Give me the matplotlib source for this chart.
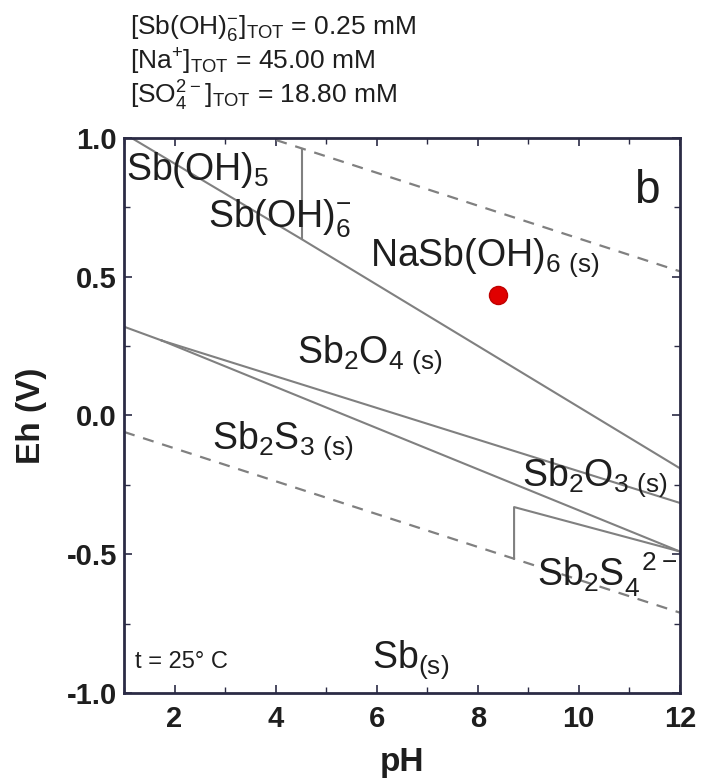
import matplotlib.pyplot as plt
from matplotlib.ticker import MultipleLocator

plt.rcParams['font.family'] = ['Liberation Sans', 'DejaVu Sans']
plt.rcParams['mathtext.default'] = 'regular'

# --- donnees (pH, Eh en V) ---
# limites de stabilite de l'eau
ph_eau = [1, 12]
eh_o2 = [1.23 - 0.0592 * p for p in ph_eau]
eh_h2 = [-0.0592 * p for p in ph_eau]

# Sb(V) / Sb(III)
ph_sb5 = [1.15, 4.52, 12.0]
eh_sb5 = [1.0, 0.635, -0.19]

# Sb(OH)5 / Sb(OH)6-
ph_vert = [4.52, 4.52]
eh_vert = [0.635, 0.962]

# Sb2O4 / Sb2S3 (segment commun)
ph_commun = [1.0, 1.75]
eh_commun = [0.32, 0.27]

# Sb2O4 / Sb2O3
ph_o4o3 = [1.75, 12.0]
eh_o4o3 = [0.27, -0.315]

# Sb2O3 / Sb2S3
ph_o3s3 = [1.75, 12.0]
eh_o3s3 = [0.27, -0.49]

# domaine Sb2S4 2-
ph_s4 = [8.72, 8.72, 12.0]
eh_s4 = [-0.516, -0.33, -0.49]

# echantillon
ph_point = [8.41]
eh_point = [0.434]

gris = '#808080'
cadre = '#2b2b45'
texte = '#1e1e1e'

fig = plt.figure(figsize=(7.03, 7.81), dpi=100)
ax = fig.add_axes([0.1764, 0.1127, 0.7906, 0.7106])

ax.plot(ph_eau, eh_o2, color=gris, lw=1.6, ls=(0, (5, 4)))
ax.plot(ph_eau, eh_h2, color=gris, lw=1.6, ls=(0, (5, 4)))
for xs, ys in [(ph_sb5, eh_sb5), (ph_vert, eh_vert), (ph_commun, eh_commun),
               (ph_o4o3, eh_o4o3), (ph_o3s3, eh_o3s3), (ph_s4, eh_s4)]:
    ax.plot(xs, ys, color=gris, lw=1.5)

ax.plot(ph_point, eh_point, 'o', color='#e00000', ms=13, mec='#c00000')

ax.set_xlim(1, 12)
ax.set_ylim(-1.0, 1.0)
ax.xaxis.set_major_locator(MultipleLocator(2))
ax.xaxis.set_minor_locator(MultipleLocator(1))
ax.yaxis.set_major_locator(MultipleLocator(0.5))
ax.yaxis.set_minor_locator(MultipleLocator(0.25))
ax.yaxis.set_major_formatter(plt.FormatStrFormatter('%.1f'))
ax.tick_params(which='both', direction='in', top=True, right=True,
               labelsize=21, colors=cadre, labelcolor=texte)
ax.tick_params(which='major', length=6, width=1.2)
ax.tick_params(axis='x', which='major', pad=9)
ax.tick_params(axis='y', which='major', pad=5)
ax.tick_params(which='minor', length=4, width=1.0)
for lab in ax.get_xticklabels() + ax.get_yticklabels():
    lab.set_fontweight('bold')
for s in ax.spines.values():
    s.set_linewidth(2.0)
    s.set_color(cadre)

ax.set_xlabel('pH', fontsize=24, fontweight='bold', labelpad=10, color=texte)
ax.set_ylabel('Eh (V)', fontsize=24, fontweight='bold', labelpad=14, color=texte)

# etiquettes des domaines
fs = 27
ax.text(1.03, 0.885, r'Sb(OH)$_5$', fontsize=fs, va='center', color=texte)
ax.text(2.66, 0.71, r'Sb(OH)$_6^{-}$', fontsize=fs, va='center', color=texte)
ax.text(5.87, 0.57, r'NaSb(OH)$_{6\ (s)}$', fontsize=fs, va='center', color=texte)
ax.text(11.1, 0.81, 'b', fontsize=33, va='center', color=texte)
ax.text(4.43, 0.22, r'Sb$_2$O$_{4\ (s)}$', fontsize=fs, va='center', color=texte)
ax.text(2.74, -0.09, r'Sb$_2$S$_{3\ (s)}$', fontsize=fs, va='center', color=texte)
ax.text(8.88, -0.225, r'Sb$_2$O$_{3\ (s)}$', fontsize=fs, va='center', color=texte)
ax.text(9.18, -0.575, r'Sb$_2$S$_4^{\ \ 2-}$', fontsize=fs, va='center', color=texte)
ax.text(5.91, -0.88, r'Sb$_{(s)}$', fontsize=fs, va='center', color=texte)
ax.text(1.22, -0.89, 't = 25° C', fontsize=17, va='center', color=texte)

# concentrations totales
entetes = [r'[Sb(OH)$_6^{-}$]$_{TOT}$ = 0.25 mM',
           r'[Na$^{+}$]$_{TOT}$ = 45.00 mM',
           r'[SO$_4^{2-}$]$_{TOT}$ = 18.80 mM']
for i, t in enumerate(entetes):
    fig.text(130 / 703, 1 - (28 + 34 * i) / 781, t, fontsize=19,
             va='center', color=texte)

fig.savefig('out.png', dpi=100)
